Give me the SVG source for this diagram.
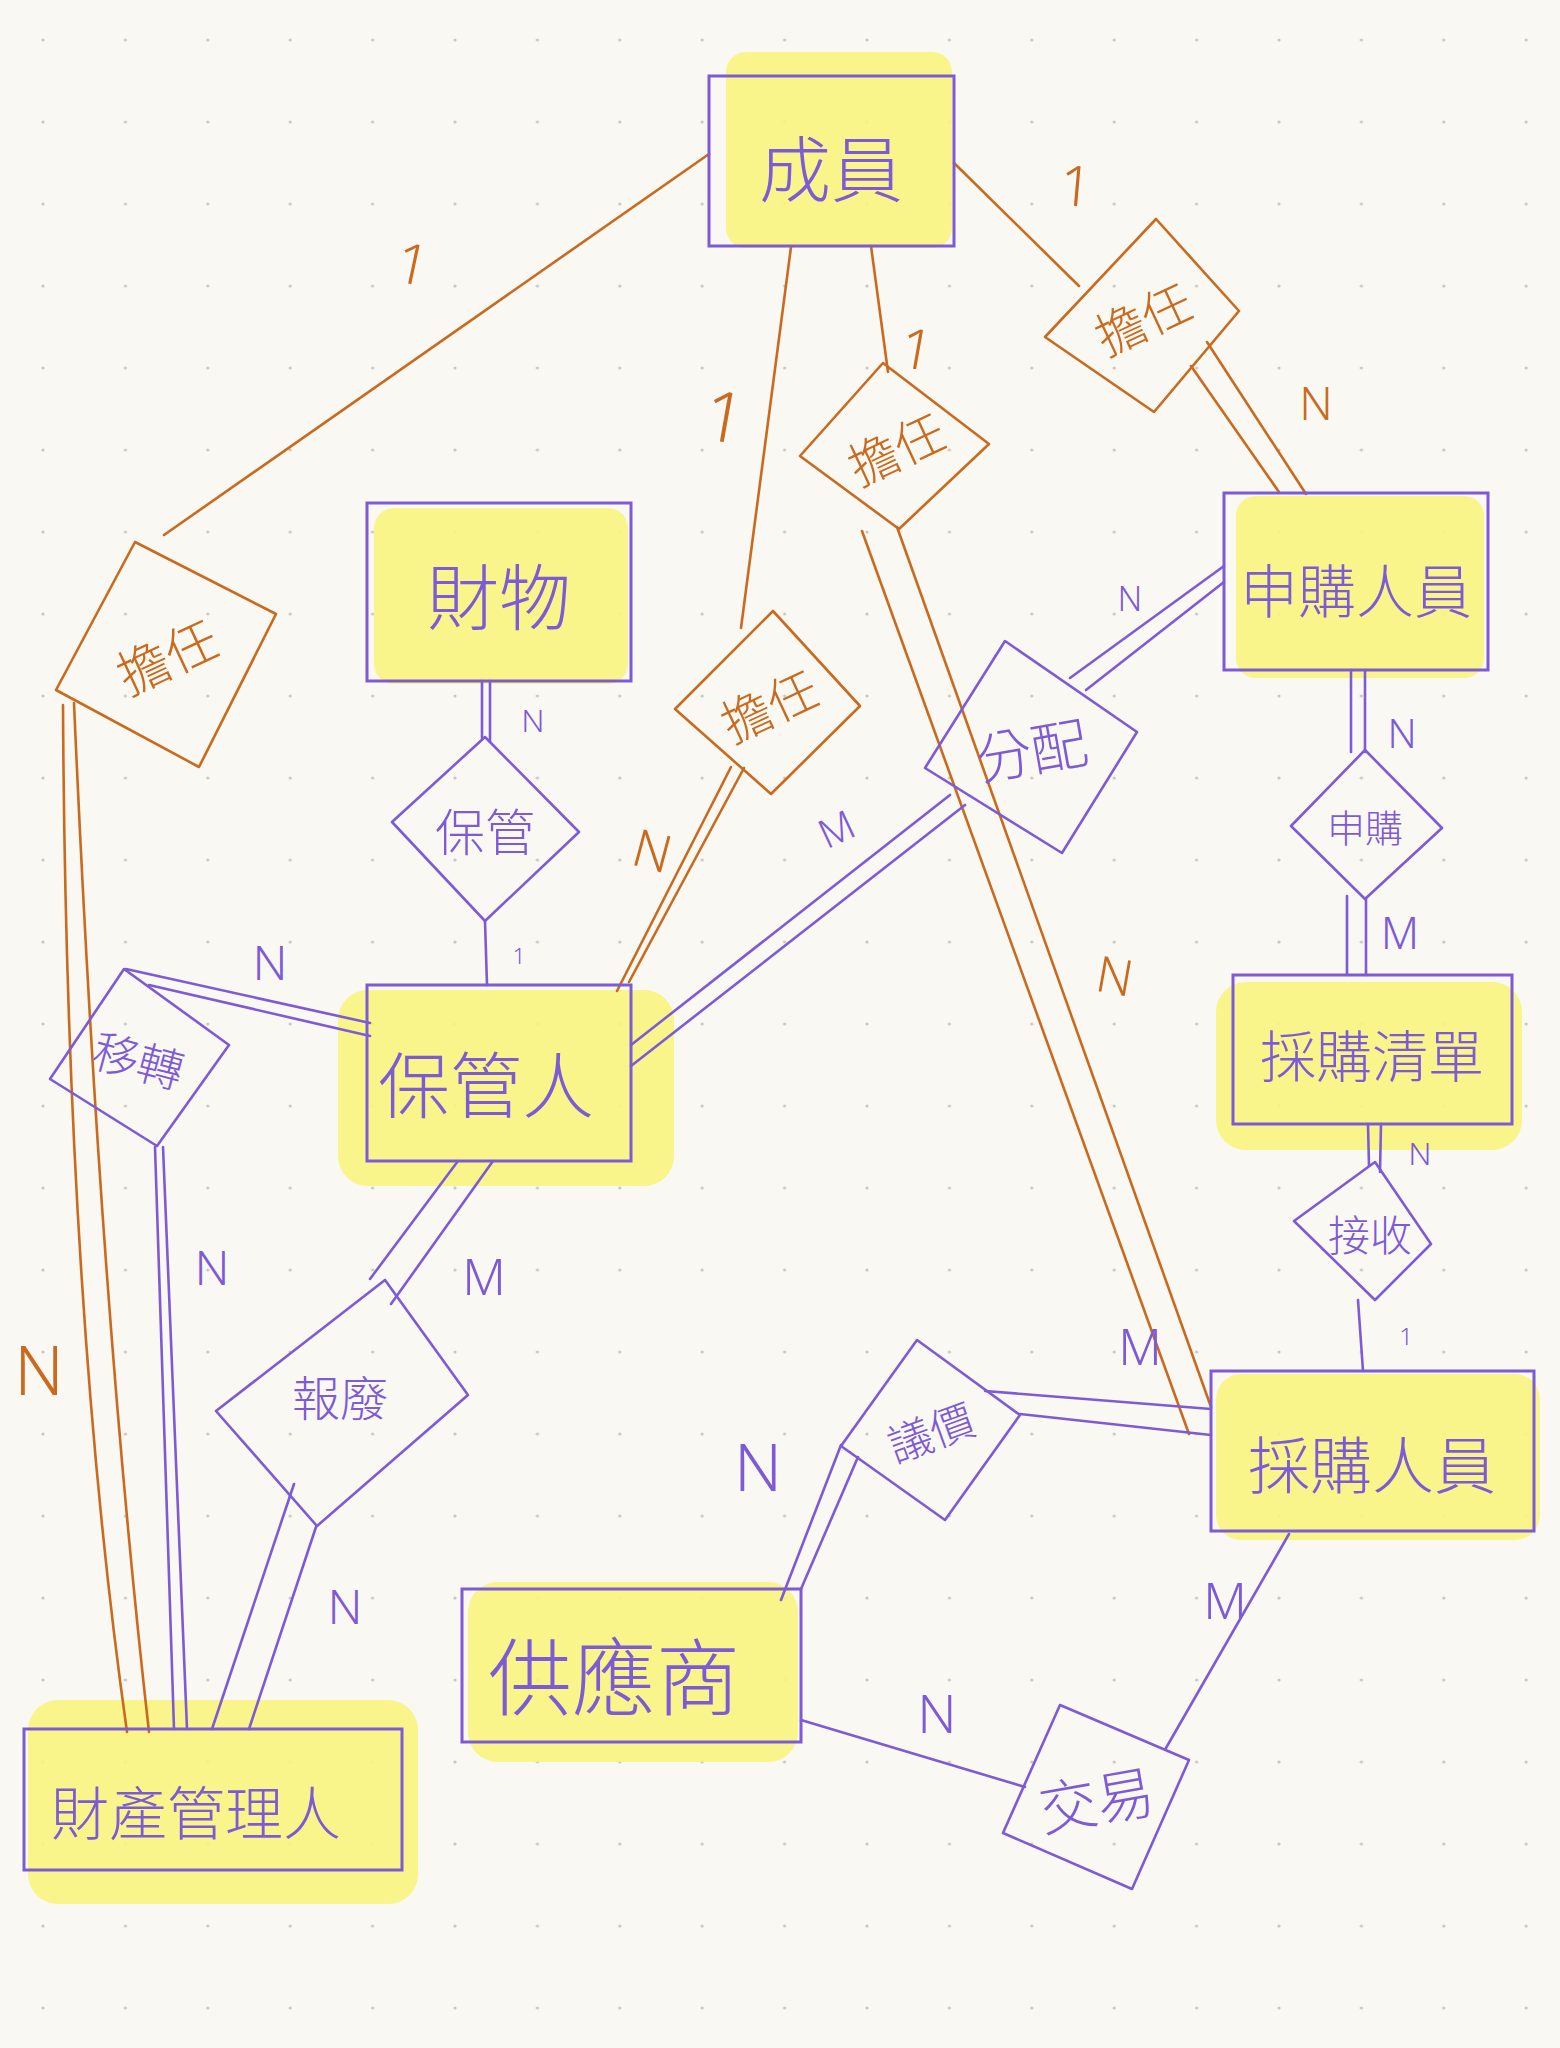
<svg xmlns="http://www.w3.org/2000/svg" width="1560" height="2048" viewBox="0 0 1560 2048">
<defs>
<pattern id="dots" x="43" y="40" width="82.4" height="82" patternUnits="userSpaceOnUse">
<circle cx="0" cy="0" r="1.6" fill="#c9c6bf"/><circle cx="82.4" cy="0" r="1.6" fill="#c9c6bf"/><circle cx="0" cy="82" r="1.6" fill="#c9c6bf"/><circle cx="82.4" cy="82" r="1.6" fill="#c9c6bf"/>
</pattern>
<style>
.ent{fill:none;stroke:#7d5ad6;stroke-width:3}
.hl{fill:#f8f47e;opacity:0.9}
.rel{fill:none;stroke:#7d5ad6;stroke-width:2.6;stroke-linejoin:round}
.relo{fill:none;stroke:#c96a1e;stroke-width:2.6;stroke-linejoin:round}
.lp{fill:none;stroke:#7d5ad6;stroke-width:2.6;stroke-linecap:round}
.lo{fill:none;stroke:#c96a1e;stroke-width:2.6;stroke-linecap:round}
.tp{fill:#7d5ad6;font-family:"Noto Sans CJK TC","Noto Sans CJK SC",sans-serif;text-anchor:middle;dominant-baseline:central;font-weight:300}
.to{fill:#c96a1e;font-family:"Noto Sans CJK TC","Noto Sans CJK SC",sans-serif;text-anchor:middle;dominant-baseline:central;font-weight:300}
.cp{fill:#7d5ad6;font-family:"Noto Sans","DejaVu Sans",sans-serif;text-anchor:middle;dominant-baseline:central;font-weight:300}
.co{fill:#c96a1e;font-family:"Noto Sans","DejaVu Sans",sans-serif;text-anchor:middle;dominant-baseline:central;font-weight:300}
</style>
</defs>
<rect width="1560" height="2048" fill="#faf8f3"/>
<rect width="1560" height="2048" fill="url(#dots)"/>

<g id="highlights">
<rect class="hl" x="726" y="52" width="226" height="196" rx="20"/>
<rect class="hl" x="374" y="508" width="254" height="176" rx="20"/>
<rect class="hl" x="1236" y="496" width="248" height="182" rx="20"/>
<rect class="hl" x="338" y="990" width="336" height="196" rx="30"/>
<rect class="hl" x="1216" y="982" width="306" height="168" rx="30"/>
<rect class="hl" x="1216" y="1374" width="324" height="166" rx="25"/>
<rect class="hl" x="468" y="1582" width="330" height="180" rx="30"/>
<rect class="hl" x="28" y="1700" width="390" height="204" rx="30"/>
</g>

<g id="connectors">
<!-- orange: 成員 - 擔任 relations -->
<line class="lo" x1="709" y1="154" x2="164" y2="535"/>
<path class="lo" d="M63,705 Q66,1300 127,1732"/>
<path class="lo" d="M74,703 Q100,1300 149,1732"/>
<line class="lo" x1="791" y1="247" x2="741" y2="628"/>
<line class="lo" x1="731" y1="767" x2="617" y2="991"/>
<line class="lo" x1="744" y1="768" x2="629" y2="982"/>
<line class="lo" x1="871" y1="246" x2="888" y2="372"/>
<line class="lo" x1="862" y1="531" x2="1189" y2="1434"/>
<line class="lo" x1="897" y1="527" x2="1211" y2="1407"/>
<line class="lo" x1="954" y1="163" x2="1079" y2="286"/>
<line class="lo" x1="1191" y1="366" x2="1279" y2="492"/>
<line class="lo" x1="1207" y1="342" x2="1306" y2="494"/>
<!-- purple -->
<line class="lp" x1="482" y1="681" x2="482" y2="738"/>
<line class="lp" x1="490" y1="681" x2="490" y2="742"/>
<line class="lp" x1="485" y1="921" x2="487" y2="985"/>
<line class="lp" x1="126" y1="969" x2="370" y2="1023"/>
<line class="lp" x1="149" y1="985" x2="370" y2="1036"/>
<line class="lp" x1="155" y1="1147" x2="174" y2="1729"/>
<line class="lp" x1="163" y1="1147" x2="187" y2="1729"/>
<line class="lp" x1="458" y1="1161" x2="370" y2="1279"/>
<line class="lp" x1="493" y1="1161" x2="391" y2="1304"/>
<line class="lp" x1="316" y1="1527" x2="249" y2="1729"/>
<line class="lp" x1="294" y1="1484" x2="212" y2="1729"/>
<line class="lp" x1="631" y1="1045" x2="950" y2="795"/>
<line class="lp" x1="631" y1="1066" x2="965" y2="805"/>
<line class="lp" x1="1070" y1="678" x2="1224" y2="566"/>
<line class="lp" x1="1086" y1="690" x2="1224" y2="582"/>
<line class="lp" x1="1351" y1="670" x2="1351" y2="752"/>
<line class="lp" x1="1365" y1="670" x2="1365" y2="752"/>
<line class="lp" x1="1347" y1="896" x2="1347" y2="975"/>
<line class="lp" x1="1366" y1="898" x2="1366" y2="975"/>
<line class="lp" x1="1368" y1="1124" x2="1369" y2="1166"/>
<line class="lp" x1="1381" y1="1124" x2="1380" y2="1172"/>
<line class="lp" x1="1358" y1="1300" x2="1363" y2="1371"/>
<line class="lp" x1="985" y1="1391" x2="1211" y2="1409"/>
<line class="lp" x1="1020" y1="1414" x2="1211" y2="1435"/>
<line class="lp" x1="858" y1="1457" x2="801" y2="1589"/>
<line class="lp" x1="841" y1="1445" x2="781" y2="1600"/>
<line class="lp" x1="801" y1="1720" x2="1025" y2="1787"/>
<line class="lp" x1="1166" y1="1748" x2="1289" y2="1534"/>
</g>

<g id="labels">
<text class="co" x="413" y="262" font-size="56" transform="rotate(12 413 262)">1</text>
<text class="co" x="1076" y="184" font-size="56" transform="rotate(5 1076 184)">1</text>
<text class="co" x="725" y="415" font-size="70" transform="rotate(10 725 415)">1</text>
<text class="co" x="917" y="347" font-size="56" transform="rotate(10 917 347)">1</text>
<text class="co" x="1316" y="402" font-size="46">N</text>
<text class="co" x="39" y="1368" font-size="68">N</text>
<text class="co" x="653" y="849" font-size="52" transform="rotate(15 653 849)">N</text>
<text class="co" x="1115" y="975" font-size="50" transform="rotate(10 1115 975)">N</text>
<text class="cp" x="533" y="719" font-size="32" font-weight="700">N</text>
<text class="cp" x="519" y="955" font-size="22">1</text>
<text class="cp" x="270" y="961" font-size="48">N</text>
<text class="cp" x="212" y="1266" font-size="48">N</text>
<text class="cp" x="484" y="1276" font-size="50">M</text>
<text class="cp" x="345" y="1605" font-size="48">N</text>
<text class="cp" x="836" y="828" font-size="40" transform="rotate(-25 836 828)">M</text>
<text class="cp" x="1130" y="598" font-size="34">N</text>
<text class="cp" x="1402" y="732" font-size="40">N</text>
<text class="cp" x="1400" y="932" font-size="44">M</text>
<text class="cp" x="1420" y="1152" font-size="32">N</text>
<text class="cp" x="1406" y="1335" font-size="24">1</text>
<text class="cp" x="1140" y="1346" font-size="50">M</text>
<text class="cp" x="758" y="1465" font-size="66">N</text>
<text class="cp" x="937" y="1712" font-size="54">N</text>
<text class="cp" x="1225" y="1600" font-size="50">M</text>
</g>

<g id="n-member"><rect class="ent" x="709" y="76" width="245" height="170"/><text class="tp" x="831" y="164" font-size="72">成員</text></g>
<g id="n-property"><rect class="ent" x="367" y="503" width="264" height="178"/><text class="tp" x="499" y="592" font-size="72">財物</text></g>
<g id="n-applicant"><rect class="ent" x="1224" y="493" width="264" height="177"/><text class="tp" x="1356" y="588" font-size="58">申購人員</text></g>
<g id="n-keeper"><rect class="ent" x="367" y="985" width="264" height="176"/><text class="tp" x="486" y="1080" font-size="72">保管人</text></g>
<g id="n-list"><rect class="ent" x="1233" y="975" width="279" height="149"/><text class="tp" x="1372" y="1052" font-size="56">採購清單</text></g>
<g id="n-buyer"><rect class="ent" x="1211" y="1371" width="323" height="160"/><text class="tp" x="1372" y="1462" font-size="62">採購人員</text></g>
<g id="n-supplier"><rect class="ent" x="462" y="1589" width="339" height="153"/><text class="tp" x="614" y="1672" font-size="84">供應商</text></g>
<g id="n-manager"><rect class="ent" x="24" y="1729" width="378" height="141"/><text class="tp" x="196" y="1810" font-size="58">財產管理人</text></g>

<g id="r-serve-left"><polygon class="relo" points="135,542 276,614 199,767 56,690"/><text class="to" x="166" y="654" font-size="52" transform="rotate(-25 166 654)">擔任</text></g>
<g id="r-serve-right"><polygon class="relo" points="1156,219 1239,311 1154,412 1045,337"/><text class="to" x="1142" y="316" font-size="50" transform="rotate(-25 1142 316)">擔任</text></g>
<g id="r-serve-top"><polygon class="relo" points="883,363 989,444 899,529 800,456"/><text class="to" x="895" y="446" font-size="50" transform="rotate(-25 895 446)">擔任</text></g>
<g id="r-serve-mid"><polygon class="relo" points="773,611 860,706 771,794 675,709"/><text class="to" x="768" y="703" font-size="50" transform="rotate(-25 768 703)">擔任</text></g>
<g id="r-allocate"><polygon class="rel" points="1005,641 1137,732 1062,853 925,768"/><text class="tp" x="1031" y="747" font-size="56" transform="rotate(-10 1031 747)">分配</text></g>
<g id="r-keep"><polygon class="rel" points="485,737 579,832 485,921 392,822"/><text class="tp" x="485" y="829" font-size="50">保管</text></g>
<g id="r-apply"><polygon class="rel" points="1365,750 1442,828 1365,899 1291,826"/><text class="tp" x="1365" y="825" font-size="38">申購</text></g>
<g id="r-receive"><polygon class="rel" points="1375,1162 1431,1244 1375,1300 1294,1221"/><text class="tp" x="1370" y="1232" font-size="42">接收</text></g>
<g id="r-transfer"><polygon class="rel" points="124,969 229,1045 157,1146 50,1079"/><text class="tp" x="139" y="1058" font-size="46" transform="rotate(15 139 1058)">移轉</text></g>
<g id="r-scrap"><polygon class="rel" points="385,1280 468,1395 317,1526 216,1411"/><text class="tp" x="340" y="1395" font-size="48">報廢</text></g>
<g id="r-bargain"><polygon class="rel" points="917,1340 1020,1415 945,1520 841,1446"/><text class="tp" x="930" y="1430" font-size="44" transform="rotate(-20 930 1430)">議價</text></g>
<g id="r-trade"><polygon class="rel" points="1060,1705 1189,1760 1132,1889 1003,1833"/><text class="tp" x="1096" y="1797" font-size="58" transform="rotate(-10 1096 1797)">交易</text></g>
</svg>
